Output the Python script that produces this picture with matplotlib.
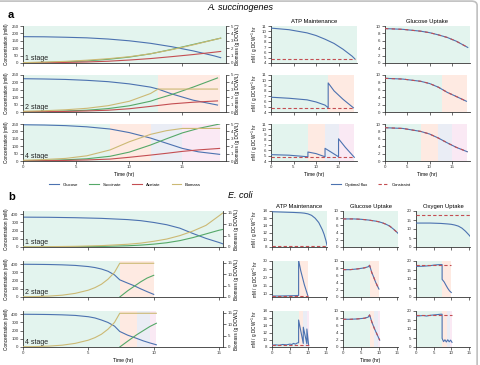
import matplotlib
matplotlib.use("Agg")
import matplotlib.pyplot as plt
from matplotlib.lines import Line2D
from matplotlib.patches import FancyBboxPatch

W, H = 480, 365
plt.rcParams['font.family'] = ['Liberation Sans', 'DejaVu Sans']
plt.rcParams['font.size'] = 3.3
plt.rcParams['mathtext.default'] = 'regular'

# ---------------- A. succinogenes: concentrations ----------------
ta1 = [0, 2, 4, 6, 8, 10, 12, 14, 16, 18, 18.6]
glc_a1 = [178, 177, 174, 170, 162, 150, 133, 110, 82, 48, 36]
suc_a1 = [2, 4, 8, 14, 25, 40, 62, 92, 125, 158, 168]
ace_a1 = [1, 2, 4, 7, 12, 20, 30, 43, 57, 73, 78]
bio_a1 = [0.05, 0.12, 0.22, 0.38, 0.58, 0.85, 1.25, 1.8, 2.45, 3.15, 3.35]

ta2 = [0, 2, 4, 6, 8, 10, 12, 12.7, 14, 16, 18.3]
glc_a2 = [225, 223, 220, 214, 205, 190, 168, 155, 122, 80, 47]
suc_a2 = [2, 4, 7, 12, 23, 42, 73, 90, 118, 168, 230]
ace_a2 = [1, 2, 4, 7, 12, 22, 38, 44, 55, 66, 75]
bio_a2 = [0.1, 0.17, 0.3, 0.5, 0.85, 1.45, 2.5, 3.1, 3.1, 3.1, 3.1]

ta3 = [0, 2, 4, 6, 8.2, 10, 12, 13.5, 15, 16.5, 18.5]
glc_a3 = [245, 243, 239, 231, 216, 192, 155, 120, 85, 62, 45]
suc_a3 = [2, 4, 8, 15, 32, 60, 108, 150, 190, 220, 250]
ace_a3 = [1, 2, 4, 7, 13, 25, 40, 52, 65, 75, 85]
bio_a3 = [0.1, 0.2, 0.35, 0.7, 1.5, 2.6, 3.6, 4.1, 4.4, 4.4, 4.4]

# A. succinogenes: fluxes
tp_a1 = [0, 4, 8, 10, 12, 14, 16, 18, 18.6]
atp_a1 = [10.6, 10.3, 9.7, 9.2, 8.5, 7.7, 6.6, 5.3, 4.8]
tp_a2 = [0, 4, 8, 10, 12, 12.7, 12.7, 14, 16, 18.3]
atp_a2 = [6.8, 6.6, 6.3, 5.9, 5.3, 4.8, 9.5, 8.0, 6.4, 4.8]
tp_a3 = [0, 4, 8.2, 8.2, 10, 12, 12, 13.5, 15, 15, 16.5, 18.5]
atp_a3 = [5.2, 5.1, 4.8, 5.7, 5.4, 4.8, 6.4, 5.6, 4.8, 8.2, 6.6, 4.7]
atp_con_a = 4.75

tg_a1 = [0, 4, 8, 10, 12, 14, 16, 18, 18.6]
gup_a1 = [9.3, 9.1, 8.6, 8.2, 7.6, 6.9, 5.9, 4.6, 4.2]
tg_a2 = [0, 4, 8, 10, 12, 13, 14, 16, 18.3]
gup_a2 = [9.1, 8.9, 8.3, 7.7, 6.7, 6.0, 5.3, 4.2, 2.9]
tg_a3 = [0, 4, 8, 10, 12, 14, 16, 18.5]
gup_a3 = [9.0, 8.8, 8.0, 7.3, 6.2, 4.9, 3.7, 2.5]

stages_a = [[0, 19.1], [0, 12.7, 18.5], [0, 8.2, 12.0, 15.0, 18.5]]

# ---------------- E. coli: concentrations ----------------
tb1 = [0, 2, 4, 6, 8, 9, 10, 11, 12, 13, 14, 15, 15.3]
glc_b1 = [365, 363, 358, 350, 335, 322, 300, 272, 230, 165, 105, 55, 38]
suc_b1 = [0, 1, 3, 7, 15, 23, 35, 52, 78, 115, 160, 205, 215]
bio_b1 = [0.1, 0.15, 0.3, 0.6, 1.2, 1.7, 2.5, 3.5, 5.0, 7.0, 9.5, 13.7, 15.0]

tb2 = [0, 1, 2, 3, 4, 5, 5.5, 6, 6.5, 7, 7.4, 8, 8.5, 9, 9.5, 10]
glc_b2 = [400, 399, 397, 393, 386, 372, 360, 342, 315, 270, 210, 170, 138, 100, 65, 32]
bio_b2 = [0.1, 0.2, 0.4, 0.8, 1.6, 3.0, 4.1, 5.6, 7.8, 10.8, 14.8, 14.8, 14.8, 14.8, 14.8, 14.8]
ts_b2 = [7.4, 8, 8.5, 9, 9.5, 10]
suc_b2 = [0, 75, 130, 185, 232, 265]

tb3 = [0, 1, 2, 3, 4, 5, 5.5, 6, 6.5, 7, 7.4, 8, 8.7, 9.2, 9.7, 10.2]
glc_b3 = [400, 399, 397, 393, 386, 370, 355, 330, 300, 255, 190, 145, 105, 75, 50, 27]
bio_b3 = [0.1, 0.2, 0.4, 0.8, 1.6, 3.0, 4.1, 5.6, 7.8, 10.8, 14.8, 14.8, 14.8, 14.8, 14.8, 14.8]
ts_b3 = [7.4, 8, 8.7, 9.2, 9.7, 10.2]
suc_b3 = [0, 70, 150, 200, 250, 290]

# E. coli: fluxes
tatp_b1 = [0, 3, 6, 8, 9, 10, 11, 12, 13, 14, 14.5, 15, 15.3]
atp_b1 = [17.8, 17.7, 17.6, 17.5, 17.4, 17.2, 16.8, 16.0, 14.8, 12.8, 11.5, 9.8, 8.5]
tatp_b2 = [0, 2, 4, 6, 7, 7.4, 7.4, 8, 9, 10]
atp_b2 = [8.6, 8.6, 8.7, 8.8, 8.9, 9.0, 30.5, 24, 15.5, 8.6]
tatp_b3 = [0, 1, 2, 3, 4, 5, 5.5, 6, 6.5, 7, 7.4, 7.4, 8.7, 8.7, 9.7, 9.7, 10.2]
atp_b3 = [8.5, 8.6, 8.5, 8.7, 8.6, 8.8, 8.7, 9.0, 8.8, 9.1, 9.2, 15.5, 9.0, 13.5, 8.9, 13.0, 8.4]
atp_con_b = [8.3, 8.4, 8.5]

tglc_b1 = [0, 3, 5, 7, 9, 10, 11, 12, 13, 14, 15, 15.3]
gup_b1 = [7.8, 7.8, 7.7, 7.5, 7.2, 7.0, 6.7, 6.3, 5.8, 5.0, 4.1, 3.8]
tglc_b2 = [0, 2, 4, 6, 7, 7.4, 8, 8.5, 9, 9.5, 10]
gup_b2 = [7.6, 7.6, 7.8, 8.1, 8.4, 8.8, 6.8, 5.6, 4.3, 3.2, 2.2]
tglc_b3 = [0, 2, 4, 6, 7, 7.4, 8, 8.7, 9.2, 9.7, 10.2]
gup_b3 = [7.7, 7.7, 7.8, 8.0, 8.3, 8.9, 7.0, 5.2, 4.1, 3.0, 1.9]

tox_b1 = [0, 4, 7, 9, 10, 11, 12, 13, 14, 15, 15.3]
oup_b1 = [13.3, 13.3, 13.1, 12.8, 12.6, 12.2, 11.6, 10.5, 8.8, 6.7, 6.0]
tox_b2 = [0, 2, 4, 5, 6, 7, 7.4, 7.4, 8, 8.5, 9, 9.5, 10]
oup_b2 = [17.0, 17.1, 17.4, 17.7, 17.9, 18.0, 18.0, 9.8, 8.3, 6.5, 4.8, 3.4, 2.5]
tox_b3 = [0, 1, 2, 3, 4, 5, 6, 7, 7.4, 7.4, 7.8, 8.2, 8.6, 9.0, 9.4, 9.8, 10.2]
oup_b3 = [17.2, 17.3, 17.5, 17.2, 17.6, 17.8, 18.0, 18.2, 18.2, 4.8, 3.0, 4.0, 2.8, 4.0, 2.9, 3.8, 2.6]
ox_con = 18.0

stages_b = [[0, 15.3], [0, 7.4, 10.0], [0, 7.4, 8.7, 9.7, 10.2]]
stage_names = ['1 stage', '2 stage', '4 stage']

BLUE, GREEN, RED, GOLD = '#4c72b0', '#55a868', '#c44e52', '#ccb974'
STAGE_COLORS = ['#66c2a5', '#fc8d62', '#8da0cb', '#e78ac3']
LW = 0.8
TICK_FS = 3.2
LABEL_FS = 3.3


def px_axes(fig, x0, y0, x1, y1):
    return fig.add_axes([x0 / W, 1 - y1 / H, (x1 - x0) / W, (y1 - y0) / H])


def style(ax):
    for s in ['top', 'right']:
        ax.spines[s].set_visible(False)
    for s in ['left', 'bottom']:
        ax.spines[s].set_linewidth(0.6)
        ax.spines[s].set_color('#333333')
    ax.tick_params(length=2, width=0.5, pad=1.2, labelsize=TICK_FS, colors='#333333')


def shade(ax, bounds):
    for i in range(len(bounds) - 1):
        ax.axvspan(bounds[i], bounds[i + 1], color=STAGE_COLORS[i], alpha=0.18, lw=0, zorder=0)


def conc_panel(ax, row, bounds, series, bio, ylim, yticks, blim, bticks, xlim, last):
    style(ax)
    shade(ax, bounds)
    for t, y, c in series:
        ax.plot(t, y, color=c, lw=LW)
    ax.set_xlim(*xlim)
    ax.set_ylim(*ylim)
    ax.set_yticks(yticks)
    ax.set_xticks([0, 5, 10, 15])
    if not last:
        ax.set_xticklabels([])
    ax.set_ylabel('Concentration (mM)', fontsize=LABEL_FS, labelpad=1.5)
    ax.text(0.012, 0.04, stage_names[row], transform=ax.transAxes, fontsize=5, va='bottom', color='#222222')
    ax2 = ax.twinx()
    for s in ['top', 'left', 'bottom']:
        ax2.spines[s].set_visible(False)
    ax2.spines['right'].set_linewidth(0.6)
    ax2.spines['right'].set_color('#333333')
    ax2.tick_params(length=2, width=0.5, pad=1.2, labelsize=TICK_FS, colors='#333333')
    ax2.plot(bio[0], bio[1], color=GOLD, lw=LW)
    ax2.set_ylim(*blim)
    ax2.set_yticks(bticks)
    ax2.set_ylabel('Biomass (g DCW/L)', fontsize=LABEL_FS, labelpad=1.5)


def flux_panel(ax, bounds, t, y, con, con_t, ylim, yticks, xlim, last, overlay=False, ylabel=False):
    style(ax)
    shade(ax, bounds)
    ax.plot(t, y, color=BLUE, lw=LW, zorder=3)
    if overlay:
        ax.plot(t, y, color=RED, lw=LW, ls=(0, (3, 3)), zorder=4)
    else:
        ax.plot(con_t, [con, con], color=RED, lw=LW, ls=(0, (3, 2)), zorder=4)
    ax.set_xlim(*xlim)
    ax.set_ylim(*ylim)
    ax.set_yticks(yticks)
    ax.set_xticks([0, 5, 10, 15])
    if not last:
        ax.set_xticklabels([])
    if ylabel:
        ax.set_ylabel(r'mM / g DCW$^{-1}$ hr', fontsize=LABEL_FS, labelpad=1.5)


fig = plt.figure(figsize=(W / 100, H / 100), dpi=100)

fig.text(8 / W, 1 - 15 / H, 'a', fontsize=8, fontweight='bold', va='center')
fig.text(240 / W, 1 - 8 / H, 'A. succinogenes', fontsize=6.5, style='italic', ha='center', va='center')
fig.text(8 / W, 1 - 197 / H, 'b', fontsize=8, fontweight='bold', va='center')
fig.text(240 / W, 1 - 196 / H, 'E. coli', fontsize=6.5, style='italic', ha='center', va='center')

# panel a
rows_a = [(26, 63), (75, 112), (124, 161)]
conc_a = [
    (ta1, glc_a1, suc_a1, ace_a1, bio_a1),
    (ta2, glc_a2, suc_a2, ace_a2, bio_a2),
    (ta3, glc_a3, suc_a3, ace_a3, bio_a3),
]
atp_a = [(tp_a1, atp_a1), (tp_a2, atp_a2), (tp_a3, atp_a3)]
gup_a = [(tg_a1, gup_a1), (tg_a2, gup_a2), (tg_a3, gup_a3)]
for r, (y0, y1) in enumerate(rows_a):
    last = r == 2
    t, g, s, a, b = conc_a[r]
    ax = px_axes(fig, 23, y0, 226, y1)
    conc_panel(ax, r, stages_a[r], [(t, g, BLUE), (t, s, GREEN), (t, a, RED)], (t, b),
               (0, 250), [0, 50, 100, 150, 200, 250], (0, 5), [0, 1, 2, 3, 4, 5], (0, 19.1), last)
    if last:
        ax.set_xlabel('Time (hr)', fontsize=3.6, labelpad=2)

    ax = px_axes(fig, 271, y0, 357, y1)
    tt, yy = atp_a[r]
    flux_panel(ax, stages_a[r], tt, yy, atp_con_a, [0, tt[-1]], (4, 11), range(4, 12), (0, 19.1), last, ylabel=True)
    if r == 0:
        ax.set_title('ATP Maintenance', fontsize=4.2, pad=2)
    if last:
        ax.set_xlabel('Time (hr)', fontsize=3.6, labelpad=2)

    ax = px_axes(fig, 385, y0, 470, y1)
    tt, yy = gup_a[r]
    flux_panel(ax, stages_a[r], tt, yy, None, None, (0, 10), [0, 2, 4, 6, 8, 10], (0, 19.1), last, overlay=True)
    if r == 0:
        ax.set_title('Glucose Uptake', fontsize=4.2, pad=2)
    if last:
        ax.set_xlabel('Time (hr)', fontsize=3.6, labelpad=2)

# panel b
rows_b = [(211, 247), (261, 297), (311, 347)]
conc_b = [
    [(tb1, glc_b1, BLUE), (tb1, suc_b1, GREEN)],
    [(tb2, glc_b2, BLUE), (ts_b2, suc_b2, GREEN)],
    [(tb3, glc_b3, BLUE), (ts_b3, suc_b3, GREEN)],
]
bio_b = [(tb1, bio_b1), (tb2, bio_b2), (tb3, bio_b3)]
atp_b = [(tatp_b1, atp_b1), (tatp_b2, atp_b2), (tatp_b3, atp_b3)]
atp_lims = [((8, 18), [8, 10, 12, 14, 16, 18]), ((8, 30), [10, 15, 20, 25, 30]), ((8, 18), [8, 10, 12, 14, 16, 18])]
gup_b = [(tglc_b1, gup_b1), (tglc_b2, gup_b2), (tglc_b3, gup_b3)]
oup_b = [(tox_b1, oup_b1), (tox_b2, oup_b2), (tox_b3, oup_b3)]
for r, (y0, y1) in enumerate(rows_b):
    last = r == 2
    ax = px_axes(fig, 23, y0, 223, y1)
    conc_panel(ax, r, stages_b[r], conc_b[r], bio_b[r], (0, 440), [0, 100, 200, 300, 400],
               (0, 15.8), [0, 5, 10, 15], (0, 15.3), last)
    if last:
        ax.set_xlabel('Time (hr)', fontsize=3.6, labelpad=2)

    ax = px_axes(fig, 272, y0, 327, y1)
    tt, yy = atp_b[r]
    flux_panel(ax, stages_b[r], tt, yy, atp_con_b[r], [0, tt[-1]], atp_lims[r][0], atp_lims[r][1],
               (0, 15.3), last, ylabel=True)
    if r == 0:
        ax.set_title('ATP Maintenance', fontsize=4.2, pad=2)

    ax = px_axes(fig, 343, y0, 398, y1)
    tt, yy = gup_b[r]
    flux_panel(ax, stages_b[r], tt, yy, None, None, (0, 10), [0, 2, 4, 6, 8, 10], (0, 15.3), last, overlay=True)
    if r == 0:
        ax.set_title('Glucose Uptake', fontsize=4.2, pad=2)
    if last:
        ax.set_xlabel('Time (hr)', fontsize=3.6, labelpad=2)

    ax = px_axes(fig, 416, y0, 470, y1)
    tt, yy = oup_b[r]
    flux_panel(ax, stages_b[r], tt, yy, ox_con, [0, tt[-1]], (0, 20), [0, 5, 10, 15, 20], (0, 15.3), last)
    if r == 0:
        ax.set_title('Oxygen Uptake', fontsize=4.2, pad=2)

# legends for panel a
species_handles = [Line2D([], [], color=c, lw=LW) for c in (BLUE, GREEN, RED, GOLD)]
fig.legend(species_handles, ['Glucose', 'Succinate', 'Acetate', 'Biomass'], loc='center',
           bbox_to_anchor=(125 / W, 1 - 185 / H), ncol=4, frameon=False, fontsize=3.1,
           handlelength=2.2, columnspacing=2.6, handletextpad=0.9)
flux_handles = [Line2D([], [], color=BLUE, lw=LW), Line2D([], [], color=RED, lw=LW, ls=(0, (3, 2)))]
fig.legend(flux_handles, ['Optimal flux', 'Constraint'], loc='center',
           bbox_to_anchor=(371 / W, 1 - 185 / H), ncol=2, frameon=False, fontsize=3.1,
           handlelength=2.2, columnspacing=2.6, handletextpad=0.9)

fig.patches.append(FancyBboxPatch((-0.05, -0.05), 1.044, 1.047, boxstyle='round,pad=0,rounding_size=0.012',
                                  transform=fig.transFigure, fill=False, ec='#c0c0c0', lw=1.2))

fig.savefig('out.png', dpi=100)
